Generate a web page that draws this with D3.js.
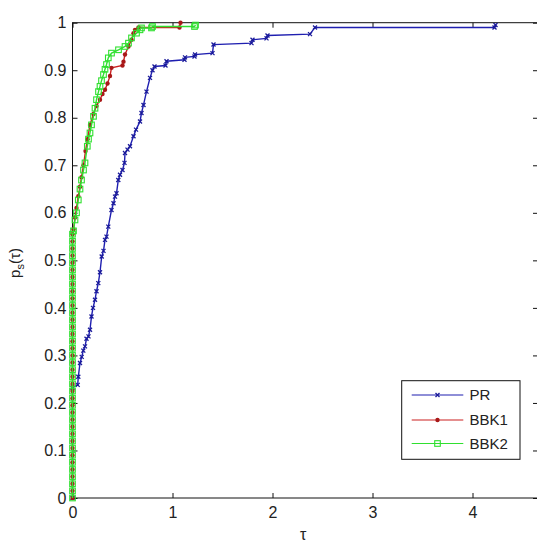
<!DOCTYPE html>
<html>
<head>
<meta charset="utf-8">
<script src="https://cdn.jsdelivr.net/npm/d3@7"></script>
<style>
  body { margin: 0; background: #fff; }
  text { font-family: "Liberation Sans", Arial, sans-serif; fill: #222; }
</style>
</head>
<body>
<svg id="chart" width="537" height="543"></svg>
<script>
// values: [tau, p_s(tau)]
var seriesNames = ['PR', 'BBK1', 'BBK2'];
var xTicks = [0, 1, 2, 3, 4];
var yTicks = [0, 0.1, 0.2, 0.3, 0.4, 0.5, 0.6, 0.7, 0.8, 0.9, 1];
var yTickLabels = ['0', '0.1', '0.2', '0.3', '0.4', '0.5', '0.6', '0.7', '0.8', '0.9', '1'];

// markers stacked on tau = 0 (BBK1 and BBK2 share them)
var zeroLevels = [0, 0.015, 0.03, 0.045, 0.06, 0.075, 0.09, 0.105, 0.12, 0.135, 0.15,
  0.165, 0.18, 0.195, 0.21, 0.225, 0.24, 0.255, 0.27, 0.285, 0.3, 0.315, 0.33, 0.345,
  0.36, 0.375, 0.39, 0.405, 0.42, 0.435, 0.45, 0.465, 0.48, 0.495, 0.51, 0.525, 0.54, 0.555];

var prPoints = [[0, 0], [0, 0.232], [0.052, 0.238], [0.058, 0.255], [0.075, 0.284], [0.092, 0.297],
  [0.108, 0.31], [0.125, 0.319], [0.14, 0.335], [0.16, 0.34], [0.175, 0.354], [0.19, 0.382],
  [0.205, 0.4], [0.225, 0.417], [0.24, 0.435], [0.258, 0.452], [0.275, 0.475], [0.292, 0.508],
  [0.31, 0.52], [0.325, 0.543], [0.34, 0.55], [0.358, 0.571], [0.39, 0.606], [0.41, 0.62],
  [0.425, 0.634], [0.44, 0.641], [0.458, 0.669], [0.475, 0.68], [0.5, 0.69], [0.52, 0.705],
  [0.525, 0.726], [0.55, 0.733], [0.575, 0.74], [0.61, 0.761], [0.635, 0.775], [0.675, 0.792],
  [0.69, 0.81], [0.71, 0.827], [0.74, 0.855], [0.775, 0.884], [0.8, 0.9], [0.82, 0.908],
  [0.93, 0.91], [0.94, 0.919], [1.12, 0.922], [1.125, 0.927], [1.22, 0.929], [1.225, 0.933],
  [1.4, 0.936], [1.41, 0.954], [1.79, 0.957], [1.8, 0.964], [1.94, 0.967], [1.95, 0.973],
  [2.375, 0.976], [2.425, 0.99], [4.22, 0.99], [4.23, 0.995]];

var bbk1Points = [[0.01, 0.565], [0.025, 0.59], [0.04, 0.61], [0.058, 0.635], [0.075, 0.655],
  [0.09, 0.675], [0.11, 0.7], [0.13, 0.73], [0.15, 0.755], [0.175, 0.785], [0.21, 0.808],
  [0.24, 0.825], [0.275, 0.838], [0.3, 0.85], [0.325, 0.859], [0.35, 0.872], [0.375, 0.888],
  [0.39, 0.905], [0.5, 0.91], [0.51, 0.918], [0.525, 0.933], [0.56, 0.95], [0.59, 0.964],
  [0.61, 0.978], [0.625, 0.985], [0.66, 0.99], [1.07, 0.99], [1.08, 1.0]];

var bbk2Points = [[0.01, 0.562], [0.025, 0.585], [0.04, 0.6], [0.058, 0.627], [0.075, 0.65],
  [0.09, 0.669], [0.11, 0.69], [0.125, 0.705], [0.148, 0.74], [0.16, 0.755], [0.175, 0.768],
  [0.19, 0.785], [0.21, 0.803], [0.225, 0.82], [0.24, 0.838], [0.26, 0.855], [0.275, 0.866],
  [0.29, 0.878], [0.31, 0.891], [0.325, 0.902], [0.34, 0.912], [0.358, 0.926], [0.39, 0.936],
  [0.46, 0.943], [0.525, 0.95], [0.56, 0.957], [0.59, 0.968], [0.64, 0.978], [0.675, 0.985],
  [0.69, 0.989], [0.79, 0.989], [0.8, 0.992], [1.22, 0.992], [1.23, 0.995]];

var zeroPoints = zeroLevels.map(function (p) { return [0, p]; });
var seriesData = [prPoints, zeroPoints.concat(bbk1Points), zeroPoints.concat(bbk2Points)];
var seriesColors = ['#1f1fb0', '#cc2020', '#2fe02f'];
var markerColors = ['#1a1a9a', '#a81818', '#2fe02f'];

var svg = d3.select('#chart');
var plotLeft = 72.5, plotRight = 538, plotTop = 22.7, plotBottom = 498;

var x = d3.scaleLinear().domain([0, 4.655]).range([plotLeft, plotRight]);
var y = d3.scaleLinear().domain([0, 1]).range([plotBottom, plotTop]);

svg.append('rect').attr('width', 537).attr('height', 543).attr('fill', '#fff');

// Axes, ticks pointing inward on all four sides
svg.append('g')
  .attr('transform', 'translate(0,' + plotBottom + ')')
  .call(d3.axisBottom(x).tickValues(xTicks).tickSize(-5).tickSizeOuter(0).tickPadding(8.5)
    .tickFormat(function (d) { return String(d); }));
svg.append('g')
  .attr('transform', 'translate(0,' + plotTop + ')')
  .call(d3.axisTop(x).tickValues(xTicks).tickSize(-5).tickSizeOuter(0).tickFormat(''));
svg.append('g')
  .attr('transform', 'translate(' + plotLeft + ',0)')
  .call(d3.axisLeft(y).tickValues(yTicks).tickSize(-5).tickSizeOuter(0).tickPadding(6)
    .tickFormat(function (d, i) { return yTickLabels[i]; }));
svg.append('g')
  .attr('transform', 'translate(' + plotRight + ',0)')
  .call(d3.axisRight(y).tickValues(yTicks).tickSize(-5).tickSizeOuter(0).tickFormat(''));

svg.selectAll('.domain').remove();
svg.selectAll('.tick line').attr('stroke', '#111');
svg.selectAll('.tick text').attr('font-size', '16px').attr('fill', '#222');

svg.append('rect')
  .attr('x', plotLeft).attr('y', plotTop)
  .attr('width', plotRight - plotLeft).attr('height', plotBottom - plotTop)
  .attr('fill', 'none').attr('stroke', '#111').attr('stroke-width', 1);

// Axis labels
svg.append('text')
  .attr('x', (plotLeft + plotRight) / 2 - 2).attr('y', 540)
  .attr('text-anchor', 'middle').attr('font-size', '16px')
  .text('τ');

var yl = svg.append('text')
  .attr('transform', 'translate(20,263) rotate(-90)')
  .attr('text-anchor', 'middle').attr('font-size', '15px');
yl.append('tspan').text('p');
yl.append('tspan').attr('font-size', '11px').attr('dy', '4').text('s');
yl.append('tspan').attr('dy', '-4').text('(τ)');

// Markers
function drawMarker(g, k, cx, cy) {
  if (k === 0) {
    g.append('path')
      .attr('d', 'M' + (cx - 2) + ',' + (cy - 2) + 'L' + (cx + 2) + ',' + (cy + 2) +
        'M' + (cx - 2) + ',' + (cy + 2) + 'L' + (cx + 2) + ',' + (cy - 2))
      .attr('stroke', markerColors[k]).attr('stroke-width', 1.3).attr('fill', 'none');
  } else if (k === 1) {
    g.append('circle').attr('cx', cx).attr('cy', cy).attr('r', 2.2)
      .attr('fill', markerColors[k]);
  } else {
    g.append('rect').attr('x', cx - 2.8).attr('y', cy - 2.8)
      .attr('width', 5.6).attr('height', 5.6)
      .attr('fill', 'none').attr('stroke', markerColors[k]).attr('stroke-width', 1.1);
  }
}

var line = d3.line()
  .x(function (d) { return x(d[0]); })
  .y(function (d) { return y(d[1]); });

var plot = svg.append('g');
seriesData.forEach(function (pts, k) {
  var g = plot.append('g').attr('class', 'series-' + k);
  g.append('path')
    .datum(pts)
    .attr('d', line)
    .attr('fill', 'none')
    .attr('stroke', seriesColors[k])
    .attr('stroke-width', 1.4);
  pts.forEach(function (d) {
    drawMarker(g, k, x(d[0]), y(d[1]));
  });
});

// Legend
var lg = svg.append('g');
lg.append('rect')
  .attr('x', 401.7).attr('y', 380.7).attr('width', 118.3).attr('height', 78.6)
  .attr('fill', '#fff').attr('stroke', '#111').attr('stroke-width', 1);
var rowY = [395, 420, 443.5];
seriesNames.forEach(function (name, k) {
  lg.append('line')
    .attr('x1', 411.7).attr('x2', 463.3)
    .attr('y1', rowY[k]).attr('y2', rowY[k])
    .attr('stroke', seriesColors[k]).attr('stroke-width', 1.2);
  drawMarker(lg, k, 437.5, rowY[k]);
  lg.append('text')
    .attr('x', 469.5).attr('y', rowY[k])
    .attr('dy', '0.36em').attr('font-size', '15px')
    .text(name);
});
</script>
</body>
</html>
